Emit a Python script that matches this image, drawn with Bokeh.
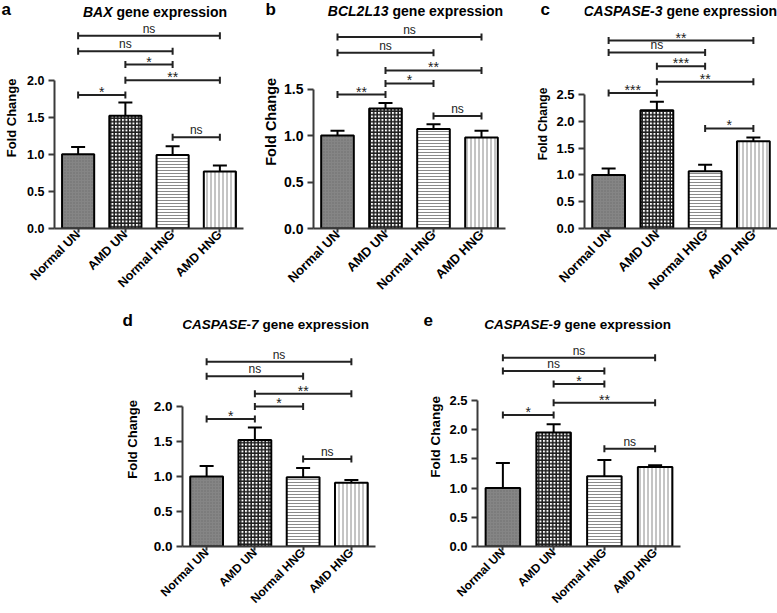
import math
from bokeh.plotting import figure
from bokeh.models import (ColumnDataSource, FactorRange, Range1d, FixedTicker,
                          PrintfTickFormatter, Whisker, TeeHead, Label, Spacer)
from bokeh.layouts import row, column
from bokeh.embed import file_html
from bokeh.resources import INLINE
from bokeh.core.properties import value

# ---------------- data ----------------
categories = ["Normal UN", "AMD UN", "Normal HNG", "AMD HNG"]

bax_mean = [1.00, 1.52, 0.99, 0.77]
bax_err = [0.10, 0.18, 0.12, 0.08]
bcl_mean = [1.00, 1.29, 1.07, 0.98]
bcl_err = [0.05, 0.06, 0.05, 0.07]
c3_mean = [1.00, 2.21, 1.07, 1.63]
c3_err = [0.12, 0.16, 0.12, 0.07]
c7_mean = [1.00, 1.52, 0.99, 0.91]
c7_err = [0.15, 0.18, 0.13, 0.04]
c9_mean = [1.00, 1.95, 1.20, 1.36]
c9_err = [0.43, 0.14, 0.28, 0.03]

# significance brackets: (from category index, to category index, height, label)
bax_sig = [(0, 3, 2.60, "ns"), (0, 2, 2.39, "ns"), (1, 2, 2.21, "*"),
           (1, 3, 2.00, "**"), (0, 1, 1.80, "*"), (2, 3, 1.23, "ns")]
bcl_sig = [(0, 3, 2.06, "ns"), (0, 2, 1.89, "ns"), (1, 3, 1.70, "**"),
           (1, 2, 1.56, "*"), (0, 1, 1.44, "**"), (2, 3, 1.21, "ns")]
c3_sig = [(0, 3, 3.51, "**"), (0, 2, 3.29, "ns"), (1, 2, 3.03, "***"),
          (1, 3, 2.74, "**"), (0, 1, 2.53, "***"), (2, 3, 1.87, "*")]
c7_sig = [(0, 3, 2.64, "ns"), (0, 2, 2.43, "ns"), (1, 3, 2.18, "**"),
          (1, 2, 2.00, "*"), (0, 1, 1.82, "*"), (2, 3, 1.25, "ns")]
c9_sig = [(0, 3, 3.23, "ns"), (0, 2, 3.00, "ns"), (1, 2, 2.78, "*"),
          (1, 3, 2.46, "**"), (0, 1, 2.25, "*"), (2, 3, 1.67, "ns")]

bax_ticks = [0.0, 0.5, 1.0, 1.5, 2.0]
bcl_ticks = [0.0, 0.5, 1.0, 1.5]
c3_ticks = [0.0, 0.5, 1.0, 1.5, 2.0, 2.5]
c7_ticks = [0.0, 0.5, 1.0, 1.5, 2.0]
c9_ticks = [0.0, 0.5, 1.0, 1.5, 2.0, 2.5]

# ---------------- style ----------------
FONT = "Liberation Sans"
bar_fill = ["#858585", "#ffffff", "#ffffff", "#ffffff"]
bar_hatch = ["dot", "cross", "horizontal_line", "vertical_line"]
bar_hatch_color = ["#6e6e6e", "#1e1e1e", "#8a8a8a", "#8a8a8a"]
bar_hatch_scale = [3, 3.5, 3, 4]
bar_hatch_weight = [1, 1.6, 1, 1]


def side_panel(letter, g):
    """Narrow strip left of a panel holding the panel letter and y-axis title."""
    w, h = g["sw"], g["h"]
    s = figure(width=w, height=h, x_range=Range1d(0, w), y_range=Range1d(0, h),
               output_backend="svg", toolbar_location=None, title=None,
               x_axis_location=None, y_axis_location=None,
               min_border=0, min_border_left=0, min_border_right=0,
               min_border_top=0, min_border_bottom=0)
    s.outline_line_color = None
    s.xgrid.visible = False
    s.ygrid.visible = False
    s.background_fill_color = "white"
    s.border_fill_color = "white"
    ox, oy = g["fig_x"] - w, g["fig_y"]
    fb = oy + g["frame_h"]
    mid = fb - (g["ticks"][0] + g["ticks"][-1]) / 2 * g["ppu"]
    s.text(x=[g["letter_x"] - ox], y=[h - (g["title_y"] - oy)], text=[letter],
           text_align="left", text_baseline="middle", text_font=value(FONT),
           text_font_style="bold", text_font_size="17px", text_color="black")
    s.text(x=[g["ylab_x"] - ox], y=[h - (mid - oy)], text=["Fold Change"],
           angle=math.pi / 2, text_align="center", text_baseline="middle",
           text_font=value(FONT), text_font_style="bold",
           text_font_size=g["lf"], text_color="black")
    return s


def make_panel(gene, mean, err, sig, g):
    ticks = g["ticks"]
    fx, fy = g["fig_x"], g["fig_y"]
    fl = fx + g["bl"]                      # frame left (page px)
    fb = fy + g["frame_h"]                 # frame bottom (page px)

    p = figure(width=g["w"], height=g["h"],
               x_range=FactorRange(*categories, range_padding=0),
               y_range=Range1d(0, g["frame_h"] / g["ppu"]),
               output_backend="svg", toolbar_location=None, title=None,
               min_border_left=g["bl"], min_border_right=g["br"],
               min_border_top=0, min_border_bottom=g["h"] - g["frame_h"])
    p.outline_line_color = None
    p.xgrid.visible = False
    p.ygrid.visible = False
    p.background_fill_color = "white"
    p.border_fill_color = "white"

    xa = p.xaxis[0]
    xa.axis_line_width = 2
    xa.axis_line_color = "#3a3a3a"
    xa.major_tick_line_width = 2
    xa.major_tick_line_color = "#3a3a3a"
    xa.major_tick_out = 4
    xa.major_tick_in = 0
    xa.major_label_orientation = math.pi / 4
    xa.major_label_standoff = 0
    xa.major_label_text_font = FONT
    xa.major_label_text_font_style = "bold"
    xa.major_label_text_font_size = g["xf"]
    xa.major_label_text_color = "black"

    ya = p.yaxis[0]
    ya.ticker = FixedTicker(ticks=ticks)
    ya.bounds = (ticks[0], ticks[-1])
    ya.formatter = PrintfTickFormatter(format="%.1f")
    ya.axis_line_width = 2
    ya.axis_line_color = "#3a3a3a"
    ya.major_tick_line_width = 2
    ya.major_tick_line_color = "#3a3a3a"
    ya.major_tick_out = 6
    ya.major_tick_in = 0
    ya.minor_tick_line_color = None
    ya.major_label_standoff = 4
    ya.major_label_text_font = FONT
    ya.major_label_text_font_style = "bold"
    ya.major_label_text_font_size = g["yf"]
    ya.major_label_text_color = "black"

    src = ColumnDataSource(dict(
        cat=categories, mean=mean,
        upper=[m + e for m, e in zip(mean, err)],
        fill=bar_fill, hatch=bar_hatch, hcolor=bar_hatch_color,
        hscale=bar_hatch_scale, hweight=bar_hatch_weight))
    p.vbar(x="cat", top="mean", bottom=0, width=0.68, source=src,
           fill_color="fill", hatch_pattern="hatch", hatch_color="hcolor",
           hatch_scale="hscale", hatch_weight="hweight",
           line_color="black", line_width=2)
    p.add_layout(Whisker(source=src, base="cat", lower="mean", upper="upper",
                         line_width=2, line_color="black", lower_head=None,
                         upper_head=TeeHead(size=14, line_width=2, line_color="black")))

    x0 = [categories[s[0]] for s in sig]
    x1 = [categories[s[1]] for s in sig]
    yy = [s[2] for s in sig]
    lab = [s[3] for s in sig]
    xm = [(s[0] + s[1]) / 2 + 0.5 for s in sig]
    yoff = [5 if "*" in t else 0 for t in lab]
    fsz = ["14px" if "*" in t else "12px" for t in lab]
    bsrc = ColumnDataSource(dict(x0=x0, x1=x1, y=yy, xm=xm, label=lab, yoff=yoff, fsz=fsz))
    p.segment(x0="x0", y0="y", x1="x1", y1="y", source=bsrc,
              line_width=2, line_color="#222222")
    p.scatter(x=x0 + x1, y=yy + yy, marker="dash", angle=math.pi / 2, size=7,
              line_width=2, line_color="#222222")
    p.text(x="xm", y="y", text="label", source=bsrc, y_offset="yoff",
           text_align="center", text_baseline="bottom",
           text_font=value(FONT), text_font_size="fsz", text_color="#222222")

    # gene title (inside the frame, screen units)
    common = dict(x_units="screen", y_units="screen", text_font=FONT, text_color="black")
    p.add_layout(Label(x=g["split"] - fl, y=fb - g["title_y"], text=gene,
                       text_align="right", text_baseline="middle",
                       text_font_style="bold italic", text_font_size=g["tf"], **common))
    p.add_layout(Label(x=g["split"] + 4 - fl, y=fb - g["title_y"],
                       text="gene expression",
                       text_align="left", text_baseline="middle",
                       text_font_style="bold", text_font_size=g["tf"], **common))
    return p


R1_H = 300
R2_H = 313
SPACER_W = 100
geo_a = dict(ticks=bax_ticks, sw=24, fig_x=24, fig_y=0, w=231, h=R1_H, bl=30, br=12,
             frame_h=229, ppu=74.5, xf="12.5px", yf="12.5px", lf="13px", tf="14px",
             letter_x=1, title_y=12, split=112, ylab_x=11)
geo_b = dict(ticks=bcl_ticks, sw=25, fig_x=280, fig_y=0, w=230, h=R1_H, bl=33, br=5,
             frame_h=230, ppu=93.8, xf="13px", yf="14px", lf="14.5px", tf="14px",
             letter_x=265, title_y=12, split=388, ylab_x=270)
geo_c = dict(ticks=c3_ticks, sw=42, fig_x=552, fig_y=0, w=225, h=R1_H, bl=32, br=0,
             frame_h=230, ppu=54, xf="13px", yf="13px", lf="12px", tf="14px",
             letter_x=540, title_y=12, split=662, ylab_x=542)
geo_d = dict(ticks=c7_ticks, sw=40, fig_x=140, fig_y=R1_H, w=250, h=R2_H, bl=42, br=15,
             frame_h=247, ppu=70.3, xf="12px", yf="13.5px", lf="13px", tf="13.5px",
             letter_x=122, title_y=325, split=258, ylab_x=132)
geo_e = dict(ticks=c9_ticks, sw=55, fig_x=445, fig_y=R1_H, w=245, h=R2_H, bl=32, br=10,
             frame_h=247, ppu=58.7, xf="12px", yf="13px", lf="13.5px", tf="13.5px",
             letter_x=423, title_y=325, split=560, ylab_x=435)

pa = make_panel("BAX", bax_mean, bax_err, bax_sig, geo_a)
pb = make_panel("BCL2L13", bcl_mean, bcl_err, bcl_sig, geo_b)
pc = make_panel("CASPASE-3", c3_mean, c3_err, c3_sig, geo_c)
pd = make_panel("CASPASE-7", c7_mean, c7_err, c7_sig, geo_d)
pe = make_panel("CASPASE-9", c9_mean, c9_err, c9_sig, geo_e)

layout = column(
    row(side_panel("a", geo_a), pa, side_panel("b", geo_b), pb,
        side_panel("c", geo_c), pc, spacing=0),
    row(Spacer(width=SPACER_W, height=R2_H), side_panel("d", geo_d), pd,
        side_panel("e", geo_e), pe, spacing=0),
    spacing=0)

open("out.html", "w").write(file_html(layout, INLINE))
